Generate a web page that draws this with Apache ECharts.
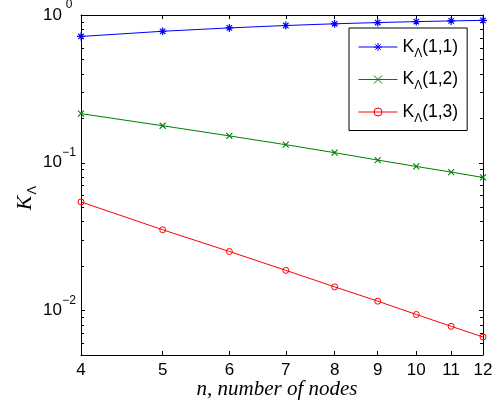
<!DOCTYPE html>
<html>
<head>
<meta charset="utf-8">
<script src="https://cdn.jsdelivr.net/npm/echarts@6/dist/echarts.min.js"></script>
<style>
  html, body { margin: 0; padding: 0; background: #fff; }
  #chart { width: 495px; height: 406px; }
</style>
</head>
<body>
<div id="chart"></div>
<script>
// Number of nodes on the x axis
const nodes = [4, 5, 6, 7, 8, 9, 10, 11, 12];

// K_Λ(1,j) for each node count
const k11 = [0.716, 0.776, 0.818, 0.849, 0.872, 0.889, 0.902, 0.912, 0.920];
const k12 = [0.215, 0.178, 0.152, 0.1325, 0.117, 0.1043, 0.0944, 0.0865, 0.0795];
const k13 = [0.0543, 0.0352, 0.0251, 0.0187, 0.01446, 0.01157, 0.0094, 0.00782, 0.00662];

const seriesNames = ['K_Λ(1,1)', 'K_Λ(1,2)', 'K_Λ(1,3)'];

// Axis tick positions
const xTicks = [4, 5, 6, 7, 8, 9, 10, 11, 12];
const xInnerTicks = [5, 6, 7, 8, 9, 10, 11];
const yMajorTicks = [0.01, 0.1, 1];
const yMinorTicks = [0.006, 0.007, 0.008, 0.009,
                     0.02, 0.03, 0.04, 0.05, 0.06, 0.07, 0.08, 0.09,
                     0.2, 0.3, 0.4, 0.5, 0.6, 0.7, 0.8, 0.9];

const SANS = 'Liberation Sans, Arial, Helvetica, sans-serif';
const SERIF = 'Liberation Serif, Times New Roman, serif';

const pairs = vals => nodes.map((n, i) => [n, vals[i]]);

// Marker outlines (stroked, not filled)
const STAR = 'path://M5,0L5,10M0,5L10,5M1.6,1.6L8.4,8.4M1.6,8.4L8.4,1.6';
const CROSS = 'path://M0,0L10,10M0,10L10,0';
const RING = 'path://M10,5A5,5,0,1,1,0,5A5,5,0,1,1,10,5Z';

function xAxisDef(position, showLabels, ticks) {
  return {
    type: 'log', logBase: 10, min: 4, max: 12, position: position,
    axisLine: { show: true, onZero: false, lineStyle: { color: '#000', width: 1 } },
    axisTick: { show: true, inside: true, length: 4, customValues: ticks,
                lineStyle: { color: '#000', width: 1 } },
    axisLabel: { show: showLabels, customValues: ticks, color: '#000', fontSize: 17,
                 fontFamily: SANS, margin: 7, formatter: v => String(Math.round(v)) },
    splitLine: { show: false }, minorTick: { show: false }
  };
}

function yAxisDef(position, ticks, len, showLine, showLabels) {
  return {
    type: 'log', logBase: 10, min: 0.005, max: 1, position: position,
    axisLine: { show: showLine, onZero: false, lineStyle: { color: '#000', width: 1 } },
    axisTick: { show: true, inside: true, length: len, customValues: ticks,
                lineStyle: { color: '#000', width: 1 } },
    axisLabel: {
      show: showLabels, customValues: ticks, margin: 5, align: 'right',
      formatter: v => {
        const p = Math.round(Math.log10(v));
        return '{b|10}{s|' + (p === 0 ? '0' : '−' + (-p)) + '}';
      },
      rich: {
        b: { fontSize: 17, fontFamily: SANS, color: '#000' },
        s: { fontSize: 12, fontFamily: SANS, color: '#000', width: 14, align: 'left',
             padding: [0, 0, 20, 0] }
      }
    },
    splitLine: { show: false }, minorTick: { show: false }
  };
}

const legendRich = {
  k: { fontSize: 17.5, fontFamily: SANS, color: '#000' },
  s: { fontSize: 12, fontFamily: SANS, color: '#000', padding: [13, 0, 0, 0] },
  n: { fontSize: 17.5, fontFamily: SANS, color: '#000' }
};

const chart = echarts.init(document.getElementById('chart'), null, { renderer: 'canvas' });

chart.setOption({
  animation: false,
  backgroundColor: '#fff',
  grid: { left: 81, right: 12, top: 15, bottom: 51, containLabel: false, outerBoundsMode: 'none' },
  xAxis: [
    xAxisDef('bottom', true, xTicks),
    xAxisDef('top', false, xInnerTicks)
  ],
  yAxis: [
    yAxisDef('left', yMajorTicks, 4, true, true),
    yAxisDef('left', yMinorTicks, 3, false, false),
    yAxisDef('right', yMajorTicks, 4, true, false),
    yAxisDef('right', yMinorTicks, 3, false, false)
  ],
  legend: {
    orient: 'vertical', left: 349, top: 28,
    backgroundColor: '#fff', borderColor: '#000', borderWidth: 1,
    padding: [10, 9, 6, 9], itemWidth: 39, itemHeight: 10, itemGap: 11,
    lineStyle: { width: 1 },
    itemStyle: { borderWidth: 1 },
    textStyle: { rich: legendRich },
    formatter: name => {
      const m = name.match(/^K_Λ(.*)$/);
      return '{k|K}{s|Λ}{n|' + m[1] + '}';
    },
    data: seriesNames
  },
  series: [
    {
      name: seriesNames[0], type: 'line', data: pairs(k11),
      symbol: STAR, symbolSize: 8,
      lineStyle: { color: '#0000ff', width: 1 },
      itemStyle: { color: '#0000ff', borderColor: '#0000ff', borderWidth: 1.2 }
    },
    {
      name: seriesNames[1], type: 'line', data: pairs(k12),
      symbol: CROSS, symbolSize: 6,
      lineStyle: { color: '#008000', width: 1 },
      itemStyle: { color: '#008000', borderColor: '#008000', borderWidth: 1.1 }
    },
    {
      name: seriesNames[2], type: 'line', data: pairs(k13),
      symbol: RING, symbolSize: 6,
      lineStyle: { color: '#ff0000', width: 1 },
      itemStyle: { color: 'rgba(255,0,0,0)', borderColor: '#ff0000', borderWidth: 1 }
    }
  ],
  graphic: [
    {
      type: 'text', x: 25, y: 198, rotation: Math.PI / 2,
      style: {
        text: '{k|K}{s|Λ}', align: 'center', verticalAlign: 'middle',
        rich: {
          k: { fontSize: 22, fontFamily: SERIF, fontStyle: 'italic', fill: '#000' },
          s: { fontSize: 13, fontFamily: SANS, fill: '#000', padding: [14, 0, 0, 1] }
        }
      }
    },
    {
      type: 'text', x: 277, y: 389,
      style: {
        text: 'n, number of nodes', align: 'center', verticalAlign: 'middle',
        font: 'italic 21px ' + SERIF, fill: '#000'
      }
    }
  ]
});
</script>
</body>
</html>
